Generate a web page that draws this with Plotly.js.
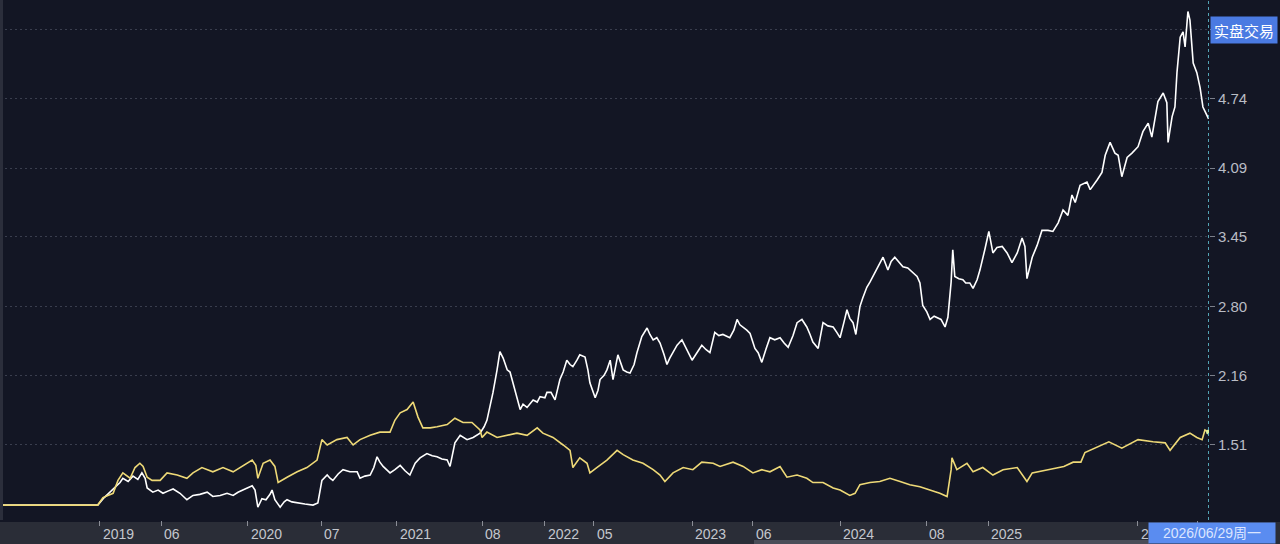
<!DOCTYPE html>
<html><head><meta charset="utf-8">
<script src="https://cdn.plot.ly/plotly-3.0.1.min.js"></script>
<style>html,body{margin:0;padding:0;background:#131624;}#chart{width:1280px;height:544px;}</style>
</head><body><div id="chart"></div>
<script>
const whiteDates = ["2018-05-08","2018-12-28","2019-01-13","2019-02-01","2019-02-21","2019-02-28","2019-03-13","2019-03-25","2019-04-06","2019-04-16","2019-04-24","2019-04-29","2019-05-13","2019-05-26","2019-06-07","2019-06-19","2019-07-02","2019-07-19","2019-08-05","2019-08-20","2019-09-06","2019-09-24","2019-10-08","2019-10-26","2019-11-12","2019-11-27","2019-12-09","2019-12-21",
"2020-01-03","2020-01-13","2020-01-20","2020-01-27","2020-02-06","2020-02-16","2020-02-26","2020-03-02","2020-03-09","2020-03-22","2020-04-01","2020-04-08","2020-04-20","2020-05-03","2020-05-22","2020-06-11","2020-06-23","2020-07-03","2020-07-16","2020-07-23","2020-07-30","2020-08-12","2020-08-24","2020-09-10","2020-09-28","2020-10-05","2020-10-17","2020-10-30","2020-11-08","2020-11-16","2020-11-23","2020-12-01","2020-12-11","2020-12-18","2020-12-30",
"2021-01-12","2021-01-24","2021-02-05","2021-02-18","2021-03-02","2021-03-19","2021-04-01","2021-04-13","2021-04-25","2021-05-08","2021-05-15","2021-05-27","2021-06-09","2021-06-26","2021-07-11","2021-07-28","2021-08-07","2021-08-14","2021-08-22","2021-08-29","2021-09-08","2021-09-15","2021-09-23","2021-10-03","2021-10-10","2021-10-15","2021-10-22","2021-11-04","2021-11-11","2021-11-21","2021-12-06","2021-12-16","2021-12-23",
"2022-01-04","2022-01-09","2022-01-19","2022-01-29","2022-02-03","2022-02-10","2022-02-18","2022-02-27","2022-03-07","2022-03-14","2022-03-24","2022-03-31","2022-04-13","2022-04-20","2022-04-25","2022-05-08","2022-05-15","2022-05-20","2022-05-30","2022-06-06","2022-06-14","2022-06-21","2022-07-03","2022-07-16","2022-07-25","2022-08-02","2022-08-12","2022-08-19","2022-08-31","2022-09-13","2022-09-20","2022-09-28","2022-10-07","2022-10-15","2022-10-25","2022-11-01","2022-11-08","2022-11-16","2022-11-26","2022-12-08","2022-12-20",
"2023-01-02","2023-01-14","2023-01-26","2023-02-05","2023-02-15","2023-02-27","2023-03-09","2023-03-19","2023-03-29","2023-04-05","2023-04-15","2023-04-23","2023-04-30","2023-05-08","2023-05-17","2023-05-25","2023-06-06","2023-06-14","2023-06-23","2023-07-03","2023-07-13","2023-07-25","2023-08-07","2023-08-17","2023-08-27","2023-09-08","2023-09-18","2023-09-30","2023-10-12","2023-10-20","2023-10-27","2023-11-09","2023-11-21","2023-12-03","2023-12-16","2023-12-25",
"2024-01-02","2024-01-12","2024-01-19","2024-01-26","2024-02-03","2024-02-10","2024-02-20","2024-02-27","2024-03-08","2024-03-16","2024-03-23","2024-04-02","2024-04-09","2024-04-17","2024-04-29","2024-05-07","2024-05-16","2024-05-26","2024-06-05","2024-06-17","2024-06-30","2024-07-10","2024-07-17","2024-07-24","2024-08-03","2024-08-11","2024-08-21","2024-08-28","2024-09-07","2024-09-17","2024-09-24","2024-10-02","2024-10-06","2024-10-11","2024-10-21","2024-10-31","2024-11-07","2024-11-17","2024-11-25","2024-12-05","2024-12-12","2024-12-24",
"2025-01-03","2025-01-13","2025-01-23","2025-02-05","2025-02-17","2025-03-01","2025-03-14","2025-03-26","2025-04-02","2025-04-07","2025-04-20","2025-05-02","2025-05-14","2025-05-29","2025-06-10","2025-06-23","2025-07-05","2025-07-17","2025-07-27","2025-08-04","2025-08-16","2025-09-02","2025-09-10","2025-09-27","2025-10-09","2025-10-17","2025-10-29","2025-11-10","2025-11-18","2025-11-27","2025-12-10","2025-12-22",
"2026-01-06","2026-01-18","2026-01-31","2026-02-09","2026-02-17","2026-02-24","2026-03-09","2026-03-18","2026-03-21","2026-03-31","2026-04-07","2026-04-12","2026-04-20","2026-04-27","2026-05-02","2026-05-09","2026-05-14","2026-05-22","2026-05-31","2026-06-08","2026-06-15","2026-06-25","2026-06-29"];
const whiteValues = [0.95,0.95,1.02,1.09,1.16,1.20,1.17,1.22,1.19,1.25,1.20,1.11,1.07,1.09,1.06,1.08,1.10,1.06,1.00,1.04,1.05,1.07,1.03,1.04,1.06,1.04,1.07,1.09,
1.11,1.13,1.09,0.93,1.01,1.00,1.05,1.09,1.00,0.93,0.98,1.00,0.98,0.97,0.96,0.95,0.97,1.18,1.23,1.20,1.18,1.24,1.28,1.26,1.26,1.20,1.22,1.23,1.30,1.40,1.35,1.31,1.27,1.25,1.28,
1.32,1.27,1.23,1.34,1.39,1.43,1.41,1.40,1.38,1.37,1.31,1.53,1.60,1.56,1.58,1.62,1.68,1.74,1.88,2.00,2.21,2.38,2.32,2.21,2.19,2.12,2.00,1.84,1.89,1.86,1.93,1.91,1.96,
1.95,2.00,2.00,1.93,2.00,2.12,2.19,2.30,2.26,2.24,2.30,2.35,2.33,2.21,2.09,1.95,2.02,2.12,2.16,2.21,2.30,2.12,2.35,2.21,2.19,2.18,2.26,2.37,2.52,2.60,2.54,2.49,2.51,2.46,2.35,2.26,2.32,2.37,2.44,2.49,2.40,
2.30,2.37,2.44,2.40,2.37,2.56,2.53,2.54,2.52,2.51,2.58,2.68,2.63,2.61,2.58,2.55,2.41,2.37,2.28,2.40,2.51,2.49,2.51,2.46,2.42,2.53,2.65,2.68,2.61,2.54,2.47,2.41,2.65,2.62,2.61,2.56,
2.51,2.66,2.77,2.69,2.65,2.54,2.80,2.88,2.98,3.03,3.08,3.14,3.19,3.26,3.14,3.22,3.26,3.22,3.17,3.16,3.11,3.08,3.02,2.81,2.75,2.68,2.71,2.70,2.68,2.61,2.70,3.03,3.33,3.08,3.06,3.05,3.02,3.02,2.97,3.05,3.14,3.33,
3.50,3.30,3.35,3.36,3.30,3.21,3.30,3.44,3.36,3.06,3.26,3.37,3.51,3.51,3.50,3.58,3.70,3.65,3.84,3.77,3.93,3.96,3.89,3.98,4.05,4.21,4.33,4.23,4.21,4.01,4.19,4.23,
4.29,4.43,4.51,4.38,4.56,4.71,4.79,4.70,4.33,4.57,4.66,4.98,5.31,5.36,5.22,5.55,5.47,5.07,4.98,4.84,4.66,4.57,4.55];

const yellowDates = ["2018-05-08","2018-12-28","2019-01-10","2019-01-22","2019-02-04","2019-02-16","2019-02-28","2019-03-18","2019-03-30","2019-04-11","2019-04-19","2019-04-29","2019-05-11","2019-05-31","2019-06-17","2019-07-12","2019-08-05","2019-08-20","2019-09-11","2019-10-08","2019-11-02","2019-11-27","2019-12-21",
"2020-01-13","2020-01-22","2020-01-27","2020-02-09","2020-02-26","2020-03-09","2020-03-17","2020-04-08","2020-05-03","2020-05-27","2020-06-21","2020-07-03","2020-07-16","2020-08-09","2020-09-03","2020-09-18","2020-10-05","2020-10-30","2020-11-23","2020-12-18","2020-12-30",
"2021-01-12","2021-01-29","2021-02-13","2021-02-25","2021-03-09","2021-03-27","2021-04-13","2021-05-08","2021-05-27","2021-06-16","2021-07-08","2021-07-28","2021-08-02","2021-08-14","2021-09-08","2021-10-03","2021-10-27","2021-11-21","2021-12-16","2021-12-30",
"2022-01-24","2022-02-18","2022-03-07","2022-03-14","2022-03-31","2022-04-18","2022-04-25","2022-05-12","2022-06-06","2022-07-01","2022-07-16","2022-08-09","2022-09-03","2022-09-28","2022-10-15","2022-10-27","2022-11-16","2022-12-11",
"2023-01-04","2023-01-26","2023-02-23","2023-03-12","2023-04-13","2023-05-08","2023-06-01","2023-06-23","2023-07-13","2023-08-07","2023-08-24","2023-09-18","2023-10-12","2023-10-27","2023-11-21","2023-12-16",
"2024-01-02","2024-01-26","2024-02-08","2024-02-20","2024-03-16","2024-04-09","2024-05-04","2024-05-29","2024-06-22","2024-07-17","2024-08-11","2024-09-04","2024-09-22","2024-10-02","2024-10-04","2024-10-16","2024-11-10","2024-11-25","2024-12-19",
"2025-01-13","2025-02-07","2025-03-14","2025-04-07","2025-04-20","2025-05-29","2025-07-07","2025-07-30","2025-08-18","2025-08-28","2025-09-27","2025-10-26","2025-11-27",
"2026-01-06","2026-02-12","2026-03-14","2026-03-26","2026-04-20","2026-05-14","2026-05-31","2026-06-13","2026-06-20","2026-06-29"];
const yellowValues = [0.95,0.95,1.02,1.04,1.06,1.18,1.25,1.20,1.30,1.34,1.31,1.21,1.18,1.18,1.25,1.23,1.20,1.25,1.30,1.26,1.30,1.26,1.32,
1.37,1.32,1.20,1.34,1.37,1.31,1.16,1.21,1.26,1.30,1.37,1.56,1.51,1.56,1.58,1.51,1.56,1.60,1.63,1.63,1.74,
1.81,1.84,1.91,1.77,1.67,1.67,1.68,1.70,1.76,1.72,1.72,1.65,1.58,1.63,1.58,1.60,1.62,1.60,1.67,1.62,
1.58,1.51,1.46,1.30,1.39,1.34,1.25,1.30,1.37,1.46,1.42,1.37,1.34,1.28,1.23,1.17,1.25,1.30,
1.28,1.35,1.34,1.31,1.35,1.31,1.25,1.28,1.26,1.31,1.21,1.23,1.20,1.16,1.16,1.11,
1.09,1.04,1.06,1.14,1.16,1.17,1.20,1.17,1.14,1.12,1.09,1.06,1.03,1.28,1.39,1.28,1.34,1.26,1.30,
1.23,1.28,1.30,1.17,1.25,1.28,1.31,1.35,1.35,1.44,1.49,1.54,1.48,
1.56,1.54,1.53,1.46,1.58,1.62,1.58,1.56,1.65,1.63];

const xTickDates = ["2019-01-02","2019-06-03","2020-01-02","2020-07-01","2021-01-04","2021-08-02","2022-01-04","2022-05-05","2023-01-03","2023-06-01","2024-01-02","2024-08-01","2025-01-02","2026-01-05","2026-06-01"];
const xTickLabels = ["2019","06","2020","07","2021","08","2022","05","2023","06","2024","08","2025","2026",""];
const yTickValues = [1.51,2.16,2.80,3.45,4.09,4.74,5.38];
const yTickLabels = ["1.51","2.16","2.80","3.45","4.09","4.74",""];
const tagLabel = "实盘交易";
const cursorDate = "2026-06-29";
const cursorLabel = "2026/06/29周一";

const W = 1280, H = 544, L = 0, R = 71, T = 0, B = 24;
const plotW = W - L - R, plotH = H - T - B;
const px = v => (v - L) / plotW;
const py = v => 1 - (v - T) / plotH;
const FONT = "Liberation Sans, Arial, Noto Sans CJK SC, sans-serif";

const traces = [
  {type:'scatter', mode:'lines', x: whiteDates, y: whiteValues, line:{color:'#ffffff', width:1.6}, hoverinfo:'skip'},
  {type:'scatter', mode:'lines', x: yellowDates, y: yellowValues, line:{color:'#eed977', width:1.6}, hoverinfo:'skip'},
  {type:'scatter', mode:'markers', x: [yellowDates[yellowDates.length-1]], y: [yellowValues[yellowValues.length-1]],
   marker:{color:'#d9f0a0', size:5}, hoverinfo:'skip'}
];

const annotations = [];
xTickDates.forEach((d, i) => {
  if (!xTickLabels[i]) return;
  annotations.push({
    xref:'x', yref:'paper', x: d, y: 0, xanchor:'left', yanchor:'top', xshift: 1, yshift: -4,
    text: xTickLabels[i], showarrow:false, font:{family:FONT, size:14, color:'#c4c7ce'}
  });
});
annotations.push({
  xref:'paper', yref:'paper', x: px(1243.5), y: py(30), xanchor:'center', yanchor:'middle',
  text: tagLabel, showarrow:false, bgcolor:'#4a7ae2', borderpad:3, width:60, height:20,
  font:{family:"Noto Sans CJK SC, sans-serif", size:15, color:'#ffffff'}
});
annotations.push({
  xref:'paper', yref:'paper', x: px(1212), y: py(533), xanchor:'center', yanchor:'middle',
  text: cursorLabel, showarrow:false, bgcolor:'#5a8cf0', borderpad:2, width:122, height:16,
  font:{family:FONT, size:14, color:'#dbe5ff'}
});

const shapes = [
  {type:'rect', xref:'paper', yref:'paper', x0: px(0), x1: px(1280), y0: py(544), y1: py(522), fillcolor:'#2a2d37', line:{width:0}, layer:'below'},
  {type:'rect', xref:'paper', yref:'paper', x0: px(754), x1: px(1149), y0: py(544), y1: py(540), fillcolor:'#4a4d58', line:{width:0}, layer:'below'},
  {type:'rect', xref:'paper', yref:'paper', x0: px(0), x1: px(3), y0: 0, y1: 1, fillcolor:'#2b2e3b', line:{width:0}, layer:'above'},
  {type:'line', xref:'x', yref:'paper', x0: cursorDate, x1: cursorDate, y0: 0, y1: 1, line:{color:'#5bb0c2', width:1, dash:'dot'}, layer:'above'}
];

const layout = {
  width: W, height: H,
  margin: {l:L, r:R, t:T, b:B, pad:0},
  paper_bgcolor: '#131624', plot_bgcolor: '#131624',
  showlegend: false,
  font: {family: FONT, color:'#b9bcc5'},
  xaxis: {
    type:'date', range:['2018-05-01','2026-06-30'],
    tickmode:'array', tickvals: xTickDates, ticktext: xTickDates.map(() => ''),
    ticks:'outside', ticklen:5, tickcolor:'#8a8d96', tickwidth:1,
    showgrid:false, zeroline:false, showline:false, fixedrange:true
  },
  yaxis: {
    side:'right', range:[0.811, 5.657],
    tickmode:'array', tickvals: yTickValues, ticktext: yTickLabels,
    ticks:'outside', ticklen:5, tickcolor:'#7b7f8a', tickwidth:1,
    tickfont:{family:FONT, size:15, color:'#b9bcc5'},
    showgrid:true, gridcolor:'#3a3e4e', griddash:'2px,3px', gridwidth:1,
    zeroline:false, showline:false, fixedrange:true
  },
  annotations, shapes
};

Plotly.newPlot('chart', traces, layout, {staticPlot:true, displayModeBar:false});
</script>
</body></html>
